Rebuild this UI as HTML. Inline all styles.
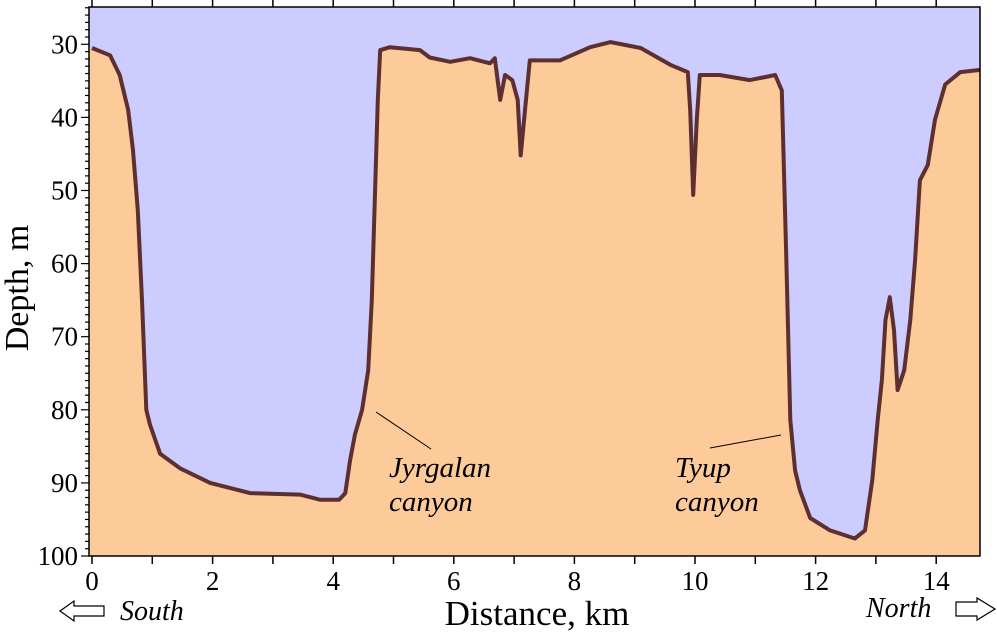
<!DOCTYPE html>
<html><head><meta charset="utf-8"><style>
body{margin:0;background:#fff;width:997px;height:632px;overflow:hidden}
svg{display:block}
text{font-family:"Liberation Serif",serif;fill:#000}
</style></head><body>
<svg id="chart" width="997" height="632"></svg>
<script>
const distances=[0,0.3,0.46,0.6,0.68,0.76,0.83,0.9,0.96,1.13,1.46,1.96,2.62,3.45,3.78,4.1,4.2,4.28,4.36,4.48,4.58,4.64,4.69,4.74,4.78,4.94,5.2,5.44,5.6,5.94,6.27,6.6,6.68,6.77,6.85,6.97,7.06,7.11,7.18,7.26,7.76,8.26,8.6,9.1,9.59,9.88,9.92,9.97,10.03,10.08,10.41,10.91,11.33,11.44,11.51,11.58,11.66,11.74,11.91,12.24,12.65,12.82,12.94,13.03,13.1,13.16,13.23,13.3,13.36,13.47,13.57,13.65,13.73,13.86,13.98,14.15,14.4,14.73];
const depths=[30.5,31.5,34.2,39,44.5,52.7,65,80,82,86,88,90,91.4,91.6,92.3,92.3,91.4,86.9,83.4,80,74.6,65,51.3,37.6,30.8,30.4,30.6,30.8,31.8,32.4,31.9,32.6,31.9,37.6,34.2,34.9,37.6,45.2,39,32.2,32.2,30.4,29.7,30.5,32.8,33.8,39,50.6,40.3,34.2,34.2,34.9,34.2,36.3,58.2,81.4,88.3,91,94.8,96.5,97.6,96.5,89.6,81.4,75.9,67.7,64.6,69.1,77.3,74.6,67.7,59.5,48.6,46.5,40.3,35.5,33.8,33.5];
const xTickLabels=[0,2,4,6,8,10,12,14];
const yTickLabels=[30,40,50,60,70,80,90,100];

const L=89,R=980,T=7,B=556;
const X=d=>92+d*60.3;
const Y=v=>44.3+(v-30)*7.31;
const svg=document.getElementById('chart');
const NS='http://www.w3.org/2000/svg';
function mk(tag,attrs,parent){const e=document.createElementNS(NS,tag);for(const k in attrs)e.setAttribute(k,attrs[k]);(parent||svg).appendChild(e);return e;}

const bg=mk('rect',{x:L,y:T,width:R-L,height:B-T,fill:'#ccccff'});



let pts=distances.map((d,i)=>X(d).toFixed(1)+','+Y(depths[i]).toFixed(1));
const fill=mk('polygon',{points:L+','+Y(depths[0])+' '+pts.join(' ')+' '+R+','+B+' '+L+','+B,fill:'#fdca9a'});


const line=mk('polyline',{points:pts.join(' '),fill:'none',stroke:'#5e2f2f','stroke-width':4,'stroke-linejoin':'round'});



const frame=mk('rect',{x:L,y:T,width:R-L,height:B-T,fill:'none',stroke:'#000','stroke-width':1.5});



for(let k=0;k<=14;k++){
  const x=X(k);
  mk('line',{x1:x,y1:B,x2:x,y2:B+8,stroke:'#000','stroke-width':1.5});
  mk('line',{x1:x,y1:T,x2:x,y2:T-7,stroke:'#000','stroke-width':1.5});
}
xTickLabels.forEach(v=>{
  const t=mk('text',{x:X(v),y:B+34,'font-size':27,'text-anchor':'middle'});
  t.textContent=v;
  
  
});
for(let v=25;v<=100;v++){
  const y=Y(v);const major=v%10==0;
  mk('line',{x1:L,y1:y,x2:L-(major?8:4),y2:y,stroke:'#000','stroke-width':1.2});
}
yTickLabels.forEach(v=>{
  const t=mk('text',{x:L-11,y:Y(v)+9,'font-size':27,'text-anchor':'end'});
  t.textContent=v;
  
  
});
</script>
<svg width="997" height="632" style="position:absolute;left:0;top:0">
<text x="537" y="625" font-size="35" text-anchor="middle">Distance, km</text>
<text transform="translate(28,288) rotate(-90)" font-size="34" text-anchor="middle">Depth, m</text>
<line x1="376" y1="412" x2="431" y2="449" stroke="#000" stroke-width="1"/>
<text x="389" y="477" font-size="29" font-style="italic">Jyrgalan</text>
<text x="389" y="511" font-size="29" font-style="italic">canyon</text>
<line x1="710" y1="448" x2="781" y2="435" stroke="#000" stroke-width="1"/>
<text x="675" y="477" font-size="29" font-style="italic">Tyup</text>
<text x="675" y="511" font-size="29" font-style="italic">canyon</text>
<polygon points="60,611 74,601 74,606 104,606 104,616 74,616 74,621" fill="#fff" stroke="#000" stroke-width="1.2"/>
<text x="120" y="620" font-size="28" font-style="italic">South</text>
<text x="866" y="617" font-size="28" font-style="italic">North</text>
<polygon points="956,602 977,602 977,598 995,609 977,620 977,616 956,616" fill="#fff" stroke="#000" stroke-width="1.2"/>
</svg>
</body></html>
